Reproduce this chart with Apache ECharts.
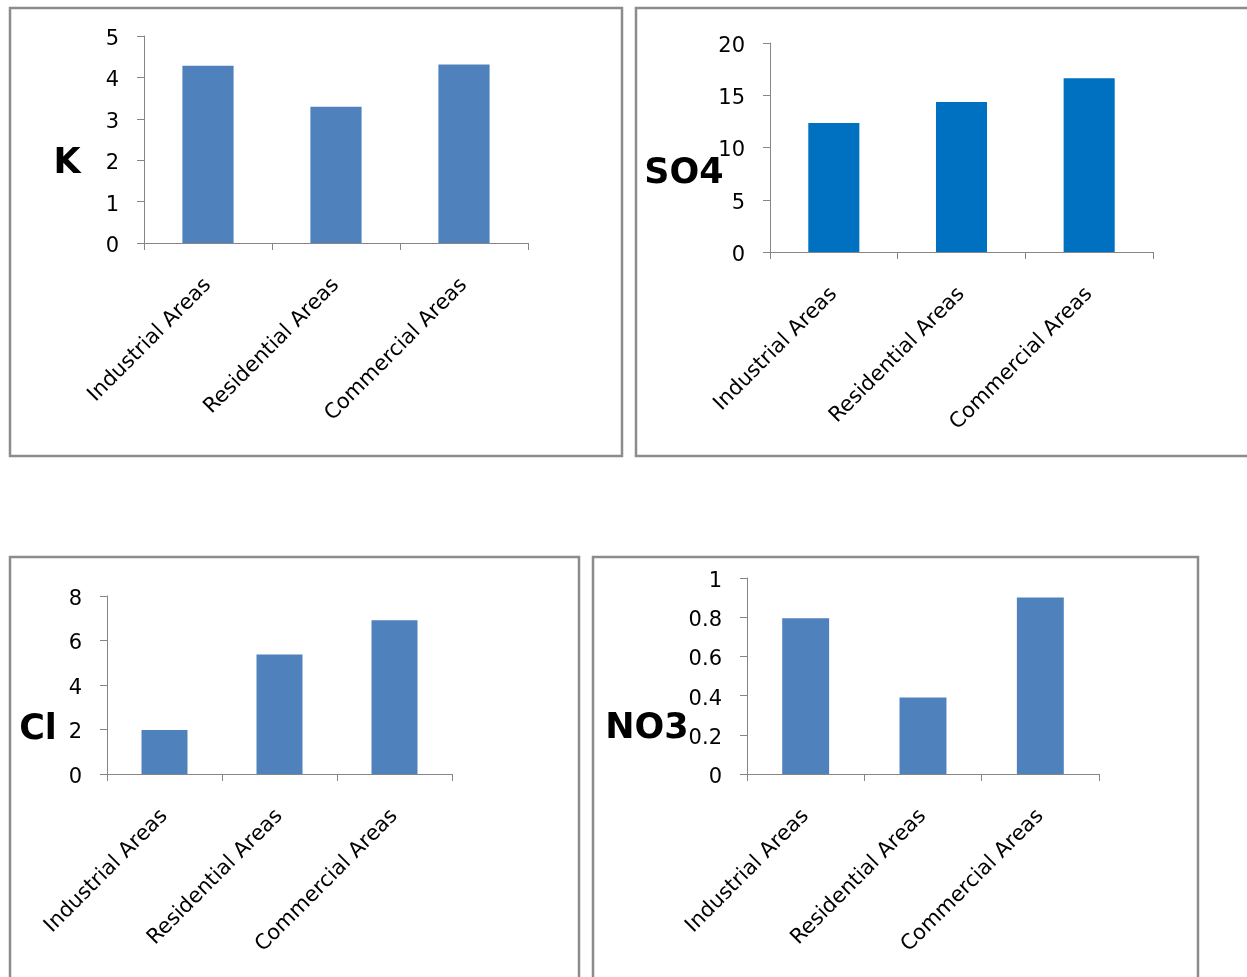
<!DOCTYPE html>
<html>
<head>
<meta charset="utf-8">
<style>
  html, body { margin: 0; padding: 0; background: #ffffff; }
  #chart { width: 1247px; height: 977px; }
</style>
<script src="https://cdn.jsdelivr.net/npm/echarts@6/dist/echarts.min.js"></script>
</head>
<body>
<div id="chart"></div>
<script>
// Area types shared by all four panels
const categories = ['Industrial Areas', 'Residential Areas', 'Commercial Areas'];

// Mean concentrations per area type
const kValues   = [4.28, 3.29, 4.31];
const so4Values = [12.34, 14.36, 16.62];
const clValues  = [1.98, 5.37, 6.91];
const no3Values = [0.795, 0.39, 0.90];

// Panel names
const panelNames = ['K', 'SO4', 'Cl', 'NO3'];

// Value-axis ranges: [max, interval]
const kAxis   = [5, 1];
const so4Axis = [20, 5];
const clAxis  = [8, 2];
const no3Axis = [1, 0.2];

const FONT = 'DejaVu Sans';
const AXIS_GREY = '#868686';
const BORDER_GREY = '#8c8c8c';

// Plot areas in pixels
const grids = [
  { left: 144, top: 36,  width: 384, height: 207 },
  { left: 770, top: 43,  width: 383, height: 209 },
  { left: 107, top: 596, width: 345, height: 178 },
  { left: 747, top: 578, width: 352, height: 196 }
];

const panels = [
  { values: kValues,   axis: kAxis,   color: '#4F81BD', decimals: 0 },
  { values: so4Values, axis: so4Axis, color: '#0070C0', decimals: 0 },
  { values: clValues,  axis: clAxis,  color: '#4F81BD', decimals: 0 },
  { values: no3Values, axis: no3Axis, color: '#4F81BD', decimals: 1 }
];

const chart = echarts.init(document.getElementById('chart'), null, { renderer: 'canvas' });

const xAxes = panels.map((p, i) => ({
  type: 'category',
  gridIndex: i,
  data: categories,
  boundaryGap: true,
  axisLine: { show: true, lineStyle: { color: AXIS_GREY, width: 1 } },
  axisTick: { show: true, alignWithLabel: false, length: 7, lineStyle: { color: AXIS_GREY } },
  axisLabel: {
    interval: 0,
    rotate: 45,
    margin: 39,
    fontFamily: FONT,
    fontSize: 21,
    color: '#000000'
  },
  splitLine: { show: false }
}));

const yAxes = panels.map((p, i) => ({
  type: 'value',
  gridIndex: i,
  min: 0,
  max: p.axis[0],
  interval: p.axis[1],
  axisLine: { show: true, lineStyle: { color: AXIS_GREY, width: 1 } },
  axisTick: { show: true, length: 7, lineStyle: { color: AXIS_GREY } },
  axisLabel: {
    margin: 25,
    color: '#000000',
    formatter: v => '{t|' + (p.decimals ? (v === 0 || v === 1 ? String(v) : v.toFixed(p.decimals)) : String(v)) + '}',
    rich: {
      t: {
        fontFamily: FONT,
        fontSize: 21,
        color: '#000000',
        padding: [7, 0, 0, 0]
      }
    }
  },
  splitLine: { show: false }
}));

const series = panels.map((p, i) => ({
  type: 'bar',
  xAxisIndex: i,
  yAxisIndex: i,
  data: p.values,
  barWidth: '40%',
  itemStyle: { color: p.color },
  silent: true
}));

// Panel frames and large panel names
const frames = [
  { x: 10,  y: 8,   width: 612, height: 448 },
  { x: 636, y: 8,   width: 640, height: 448 },
  { x: 10,  y: 557, width: 569, height: 460 },
  { x: 593, y: 557, width: 605, height: 460 }
];
const namePos = [
  [67, 164],
  [684, 174],
  [38, 730],
  [647, 729]
];

const graphic = [];
frames.forEach(f => {
  graphic.push({
    type: 'rect',
    silent: true,
    shape: { x: f.x, y: f.y, width: f.width, height: f.height },
    style: { fill: 'none', stroke: BORDER_GREY, lineWidth: 2.5 }
  });
});
panelNames.forEach((name, i) => {
  graphic.push({
    type: 'text',
    silent: true,
    x: namePos[i][0],
    y: namePos[i][1],
    style: {
      text: name,
      font: 'bold 35px "' + FONT + '"',
      fill: '#000000',
      align: 'center',
      verticalAlign: 'middle'
    }
  });
});

chart.setOption({
  animation: false,
  backgroundColor: '#ffffff',
  grid: grids.map(g => Object.assign({ containLabel: false }, g)),
  xAxis: xAxes,
  yAxis: yAxes,
  series: series,
  graphic: graphic
});
</script>
</body>
</html>
